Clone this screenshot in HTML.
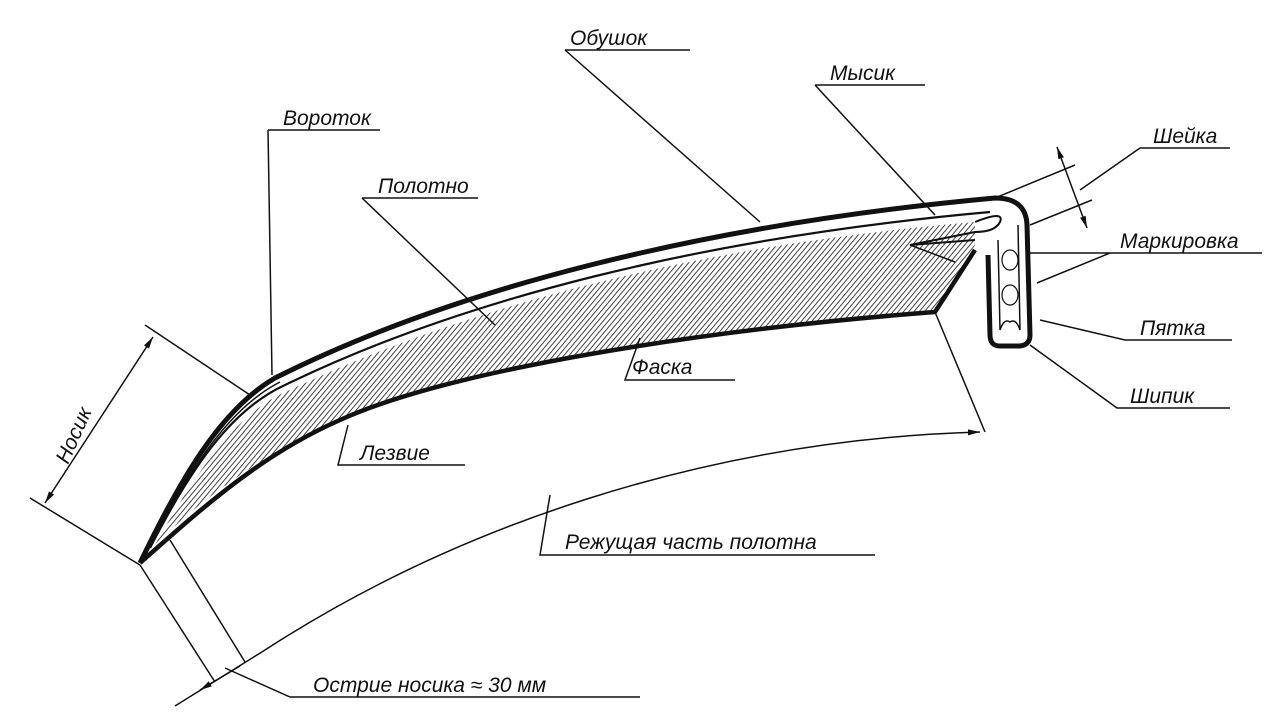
<!DOCTYPE html>
<html><head><meta charset="utf-8"><style>
html,body{margin:0;padding:0;background:#fff;}
svg{display:block}
text{font-family:"Liberation Sans",sans-serif;font-style:italic;font-size:21px;fill:#111;}
</style></head><body>
<svg width="1280" height="712" viewBox="0 0 1280 712" xmlns="http://www.w3.org/2000/svg">
<defs>
<pattern id="h" width="4" height="4" patternUnits="userSpaceOnUse" patternTransform="rotate(40)">
<line x1="0" y1="0" x2="0" y2="4" stroke="#222" stroke-width="1.7"/>
</pattern>
<marker id="a" markerWidth="12" markerHeight="8" refX="12" refY="4" orient="auto" markerUnits="userSpaceOnUse">
<path d="M0,1 L12,4 L0,7 Z" fill="#111"/></marker>
<marker id="b" markerWidth="12" markerHeight="8" refX="0" refY="4" orient="auto" markerUnits="userSpaceOnUse">
<path d="M12,1 L0,4 L12,7 Z" fill="#111"/></marker>
</defs>
<rect width="1280" height="712" fill="#fff"/>
<g fill="none" stroke="#111">
<path d="M155,545 C200,465 240,410 290,390 C470,305 700,245 975,222 L975,245 L935,312 C700,330 450,370 340,420 C250,460 190,510 155,545 Z" fill="url(#h)" stroke="none"/>
<path d="M140,563 C180,480 220,410 275,378 C450,290 700,225 995,198 Q1026,198 1027,225 L1030,335 Q1030,346 1018,346 L1000,346 Q990,346 990,335 L988,255" stroke-width="5"/>
<path d="M150,548 C190,470 230,410 285,385 C460,300 700,238 990,212" stroke-width="2.2"/>
<path d="M145,556 C185,478 225,410 280,382" stroke-width="1.5"/>
<path d="M140,563 C200,510 260,455 340,420 C450,370 700,330 935,312 L975,250" stroke-width="4.5"/>
<path d="M160,545 C210,500 270,450 345,418" stroke-width="1.5"/>
<path d="M975,222 Q1005,210 1000,222 Q995,232 975,232 L910,245 L975,240" stroke-width="2"/>
<path d="M910,245 L955,262" stroke-width="1.5"/>
<path d="M998,240 L1000,330 M1018,225 L1020,330 M1000,330 Q1004,318 1010,322 Q1016,318 1020,330" stroke-width="1.5"/>
<ellipse cx="1010" cy="260" rx="8" ry="10" stroke-width="1.2"/>
<ellipse cx="1010" cy="295" rx="8" ry="10" stroke-width="1.2"/>
</g>
<g fill="none" stroke="#111" stroke-width="1.5">
<path d="M565,50 L690,50 M565,50 L760,222"/>
<path d="M815,85 L925,85 M815,85 L935,215"/>
<path d="M268,130 L380,130 M268,130 L272,375"/>
<path d="M362,198 L478,198 M362,198 L495,325"/>
<path d="M995,198 L1075,165 M1030,225 L1092,200 M1080,190 L1140,148 L1230,148"/>
<path d="M1057,147 L1087,228" marker-start="url(#b)" marker-end="url(#a)"/>
<path d="M1030,253 L1262,253 M1037,283 L1110,253"/>
<path d="M1040,320 L1125,340 L1232,340"/>
<path d="M1030,345 L1117,408 L1230,408"/>
<path d="M640,338 L625,380 L735,380"/>
<path d="M348,425 L338,465 L465,465"/>
<path d="M145,325 L250,395 M30,498 L140,565"/>
<path d="M153,337 L45,503" marker-start="url(#b)" marker-end="url(#a)"/>
<path d="M140,565 L215,682 M170,540 L245,662"/>
<path d="M175,706 L265,650 C450,530 700,440 980,432" marker-end="url(#a)"/>
<path d="M200,690 L240,666" marker-start="url(#b)"/>
<path d="M935,312 L985,432"/>
<path d="M550,495 L540,555 L875,555"/>
<path d="M225,668 L290,697 L640,697"/>
</g>
<text x="570" y="45">Обушок</text>
<text x="830" y="80">Мысик</text>
<text x="283" y="125">Вороток</text>
<text x="378" y="193" font-size="19">Полотно</text>
<text x="1153" y="143">Шейка</text>
<text x="1120" y="248" font-size="20">Маркировка</text>
<text x="1140" y="335">Пятка</text>
<text x="1130" y="403">Шипик</text>
<text x="632" y="374">Фаска</text>
<text x="360" y="460">Лезвие</text>
<text x="565" y="549">Режущая часть полотна</text>
<text x="313" y="692">Острие носика ≈ 30 мм</text>
<text x="0" y="0" transform="translate(68,465) rotate(-66)">Носик</text>
</svg>
</body></html>
